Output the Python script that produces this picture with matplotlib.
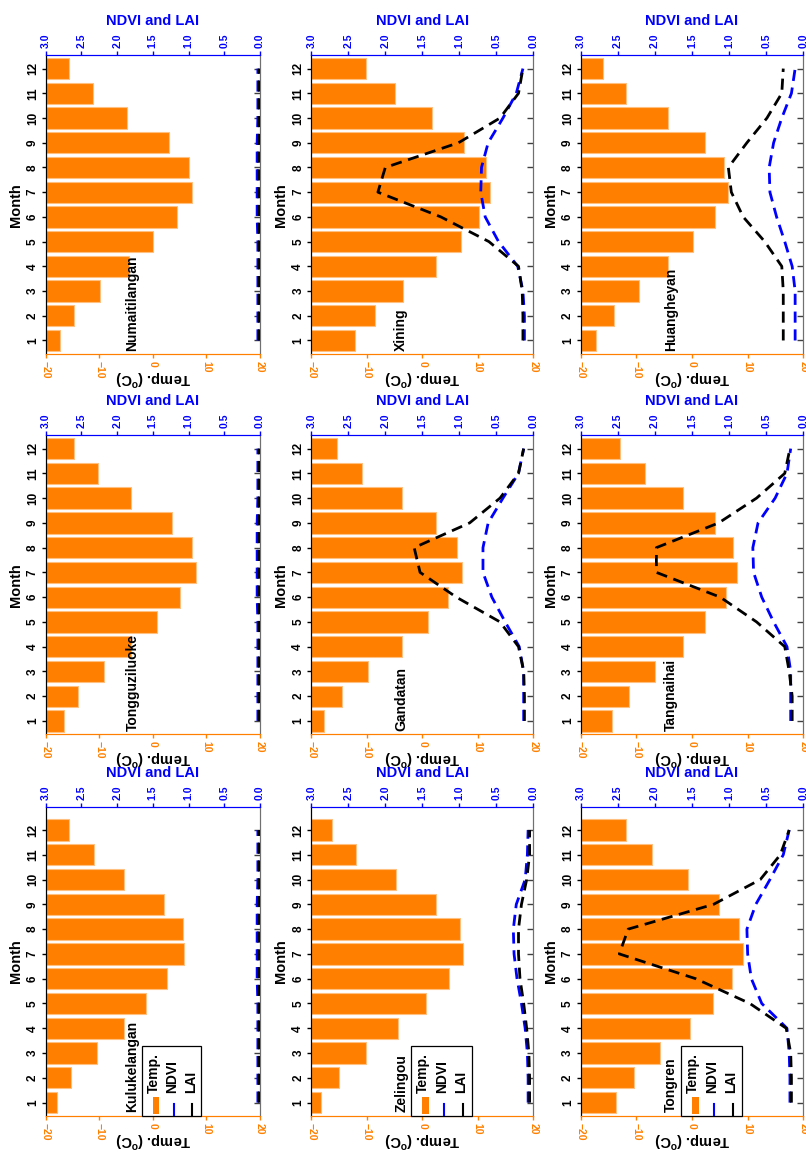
import matplotlib
matplotlib.use("Agg")
import matplotlib.pyplot as plt
from matplotlib.patches import Rectangle
from matplotlib.lines import Line2D
import numpy as np

plt.rcParams['font.family'] = ['Liberation Sans', 'DejaVu Sans']
plt.rcParams['font.weight'] = 'bold'
plt.rcParams['mathtext.fontset'] = 'custom'
plt.rcParams['mathtext.rm'] = 'Liberation Sans:bold'
plt.rcParams['mathtext.bf'] = 'Liberation Sans:bold'

months = [1, 2, 3, 4, 5, 6, 7, 8, 9, 10, 11, 12]

# station layout, row by row
stations = [["Numaitilangan", "Xining", "Huangheyan"],
            ["Tongguziluoke", "Gandatan", "Tangnaihai"],
            ["Kulukelangan", "Zelingou", "Tongren"]]

# monthly mean temperature (deg C)
temp = {
    "Numaitilangan": [-17.3, -14.7, -9.9, -4.45, 0.0, 4.5, 7.4, 6.75, 3.0, -4.8, -11.2, -15.6],
    "Xining":        [-12.1, -8.5, -3.5, 2.5, 6.9, 10.2, 12.25, 11.5, 7.5, 1.7, -5.0, -10.15],
    "Huangheyan":    [-17.3, -14.1, -9.6, -4.4, 0.1, 4.1, 6.5, 5.8, 2.3, -4.3, -11.8, -16.0],
    "Tongguziluoke": [-16.6, -14.0, -9.1, -4.0, 0.7, 5.1, 8.0, 7.4, 3.5, -4.1, -10.2, -14.8],
    "Gandatan":      [-17.7, -14.5, -9.8, -3.7, 1.0, 4.7, 7.1, 6.2, 2.4, -3.7, -10.8, -15.4],
    "Tangnaihai":    [-14.4, -11.3, -6.7, -1.7, 2.4, 6.05, 8.1, 7.4, 4.1, -1.6, -8.5, -13.0],
    "Kulukelangan":  [-17.9, -15.3, -10.5, -5.4, -1.3, 2.6, 5.9, 5.7, 2.0, -5.3, -10.9, -15.7],
    "Zelingou":      [-18.3, -15.0, -10.2, -4.4, 0.7, 4.8, 7.4, 6.8, 2.4, -4.7, -11.95, -16.2],
    "Tongren":       [-13.65, -10.5, -5.8, -0.4, 3.7, 7.1, 9.2, 8.4, 4.85, -0.7, -7.25, -11.9],
}

ndvi = {
    "Numaitilangan": [0.03, 0.03, 0.03, 0.03, 0.03, 0.04, 0.04, 0.04, 0.04, 0.03, 0.03, 0.03],
    "Xining":        [0.12, 0.12, 0.14, 0.21, 0.47, 0.65, 0.71, 0.70, 0.61, 0.41, 0.23, 0.14],
    "Huangheyan":    [0.11, 0.11, 0.11, 0.15, 0.25, 0.36, 0.45, 0.46, 0.40, 0.29, 0.16, 0.11],
    "Tongguziluoke": [0.03, 0.03, 0.03, 0.03, 0.03, 0.04, 0.04, 0.04, 0.04, 0.03, 0.03, 0.03],
    "Gandatan":      [0.13, 0.13, 0.13, 0.19, 0.38, 0.56, 0.68, 0.68, 0.61, 0.41, 0.20, 0.13],
    "Tangnaihai":    [0.17, 0.17, 0.17, 0.22, 0.40, 0.56, 0.67, 0.68, 0.61, 0.38, 0.22, 0.17],
    "Kulukelangan":  [0.03, 0.03, 0.03, 0.03, 0.03, 0.04, 0.04, 0.04, 0.04, 0.03, 0.03, 0.03],
    "Zelingou":      [0.07, 0.07, 0.08, 0.11, 0.16, 0.22, 0.26, 0.27, 0.23, 0.11, 0.08, 0.07],
    "Tongren":       [0.18, 0.18, 0.19, 0.22, 0.56, 0.70, 0.75, 0.76, 0.64, 0.45, 0.27, 0.19],
}

lai = {
    "Numaitilangan": [0.01, 0.01, 0.01, 0.01, 0.01, 0.02, 0.02, 0.02, 0.02, 0.01, 0.01, 0.01],
    "Xining":        [0.14, 0.14, 0.15, 0.20, 0.60, 1.25, 2.10, 2.00, 1.01, 0.45, 0.20, 0.14],
    "Huangheyan":    [0.27, 0.27, 0.27, 0.29, 0.52, 0.81, 0.97, 1.01, 0.76, 0.49, 0.29, 0.27],
    "Tongguziluoke": [0.01, 0.01, 0.01, 0.01, 0.01, 0.02, 0.02, 0.02, 0.02, 0.01, 0.01, 0.01],
    "Gandatan":      [0.12, 0.12, 0.13, 0.20, 0.45, 1.04, 1.53, 1.61, 0.86, 0.45, 0.20, 0.13],
    "Tangnaihai":    [0.15, 0.15, 0.19, 0.25, 0.63, 1.12, 1.98, 1.98, 1.14, 0.63, 0.25, 0.18],
    "Kulukelangan":  [0.01, 0.01, 0.01, 0.01, 0.01, 0.02, 0.02, 0.02, 0.02, 0.01, 0.01, 0.01],
    "Zelingou":      [0.05, 0.05, 0.06, 0.09, 0.13, 0.18, 0.20, 0.20, 0.16, 0.09, 0.05, 0.05],
    "Tongren":       [0.16, 0.16, 0.17, 0.23, 0.72, 1.45, 2.48, 2.36, 1.21, 0.58, 0.31, 0.19],
}

ORANGE = '#FF8000'
BLUE = '#0000FF'

W, H = 806, 1152
fig = plt.figure(figsize=(W / 100, H / 100), dpi=100)

# panel frames in pixels (left, right) / (top, bottom)
col_px = [(45.7, 260.0), (311.3, 533.3), (580.7, 803.3)]
row_px = [(55.0, 354.3), (435.0, 734.3), (806.7, 1116.0)]
row_ylim = [(0.44, 12.55), (0.46, 12.55), (0.46, 12.94)]

for r in range(3):
    for c in range(3):
        name = stations[r][c]
        l, rr = col_px[c]
        t, b = row_px[r]
        ax = fig.add_axes([l / W, (H - b) / H, (rr - l) / W, (b - t) / H])

        t_vals = np.array(temp[name])
        ax.barh(months, t_vals + 20, left=-20, height=0.86, color=ORANGE,
                edgecolor='#FFC080', linewidth=0.8, zorder=2)
        ax.set_xlim(-20, 20)
        ax.set_ylim(*row_ylim[r])
        ax.set_xticks([-20, -10, 0, 10, 20])
        ax.set_yticks(months)
        ax.tick_params(axis='x', colors=ORANGE, labelsize=7.5, length=3,
                       width=1, direction='out', pad=2, labelrotation=-90)
        ax.tick_params(axis='y', colors='black', labelsize=8.5, length=3,
                       width=1, direction='out', pad=2, labelrotation=90)
        for lab in ax.get_yticklabels():
            lab.set_verticalalignment('center')
        xl = ax.set_xlabel(r'Temp. ($^{\rm o}$C)', rotation=180, fontsize=10.5,
                           fontweight='bold')
        xl.set_verticalalignment('center')
        ax.xaxis.set_label_coords(0.5, -24.0 / (b - t))
        ax.set_ylabel('Month', fontsize=10.5, fontweight='bold', labelpad=3)
        ax.spines['bottom'].set_color(ORANGE)
        ax.spines['left'].set_color('black')
        ax.spines['right'].set_color('#707070')
        ax.spines['top'].set_color(BLUE)

        ax2 = ax.twiny()
        ax2.plot(ndvi[name], months, color=BLUE, lw=2.0, dashes=(4, 2.4), zorder=3)
        ax2.plot(lai[name], months, color='black', lw=2.0, dashes=(4, 2.4), zorder=4)
        ax2.set_xlim(3, 0)
        ax2.set_xticks(np.arange(0, 3.01, 0.5))
        ax2.xaxis.set_major_formatter(matplotlib.ticker.FormatStrFormatter('%.1f'))
        ax2.tick_params(axis='x', colors=BLUE, labelsize=7.5, length=3, width=1,
                        direction='out', pad=2, labelrotation=90)
        ax2.set_xlabel('NDVI and LAI', color=BLUE, fontsize=10.5,
                       fontweight='bold', labelpad=6)
        ax2.spines['top'].set_color(BLUE)
        ax2.spines['bottom'].set_color(ORANGE)
        ax2.spines['left'].set_color('black')
        ax2.spines['right'].set_color('#707070')
        # month ticks on the right frame point inward
        ax2.yaxis.set_visible(True)
        ax2.yaxis.tick_right()
        ax2.tick_params(axis='y', direction='in', length=4, width=1,
                        color='#404040', labelright=False)

        ax2.text(0.405, 0.012, name, rotation=90, ha='center', va='bottom',
                 fontsize=10, fontweight='bold', transform=ax2.transAxes, zorder=6)

        if r == 2:
            # legend box drawn by hand so the entries read sideways
            tr = ax2.transAxes
            ax2.add_patch(Rectangle((0.451, 0.0), 0.272, 0.226, transform=tr,
                                    facecolor='white', edgecolor='black',
                                    linewidth=0.9, zorder=7, clip_on=False))
            ax2.add_patch(Rectangle((0.499, 0.006), 0.031, 0.056, transform=tr,
                                    facecolor=ORANGE, edgecolor='none', zorder=8))
            ax2.add_line(Line2D([0.599, 0.599], [0.0, 0.039], transform=tr,
                                color=BLUE, lw=1.5, zorder=8))
            ax2.add_line(Line2D([0.685, 0.685], [0.0, 0.039], transform=tr,
                                color='black', lw=1.5, zorder=8))
            for xx, lab in [(0.503, 'Temp.'), (0.590, 'NDVI'), (0.677, 'LAI')]:
                ax2.text(xx, 0.074, lab, rotation=90, ha='center', va='bottom',
                         fontsize=10, fontweight='bold', transform=tr, zorder=9)

fig.savefig('out.png', dpi=100)
